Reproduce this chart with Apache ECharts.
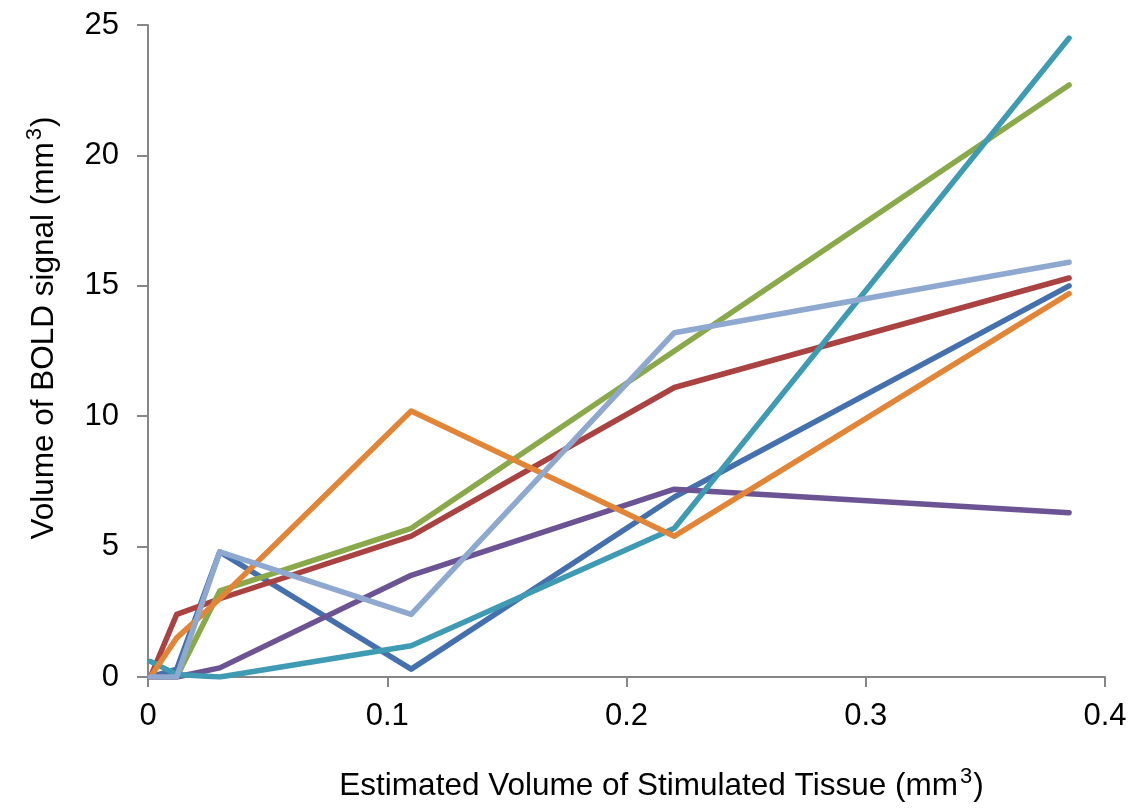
<!DOCTYPE html>
<html>
<head>
<meta charset="utf-8">
<script src="https://cdn.jsdelivr.net/npm/echarts@6/dist/echarts.min.js"></script>
<style>html,body{margin:0;padding:0;background:#fff;}#c{width:1133px;height:809px;}</style>
</head>
<body>
<div id="c"></div>
<script>
const xValues = [0.001, 0.012, 0.03, 0.11, 0.22, 0.385];
const seriesBlue      = [0, 0.3, 4.8, 0.3, 6.9, 15.0];
const seriesRed       = [0, 2.4, 3.0, 5.4, 11.1, 15.3];
const seriesGreen     = [0, 0, 3.3, 5.7, 12.5, 22.7];
const seriesPurple    = [0, 0, 0.35, 3.9, 7.2, 6.3];
const seriesTeal      = [0.6, 0.1, 0, 1.2, 5.7, 24.5];
const seriesOrange    = [0, 1.5, 3.0, 10.2, 5.4, 14.7];
const seriesLightBlue = [0, 0, 4.8, 2.4, 13.2, 15.9];

const seriesList = [
  {data: seriesBlue, color: '#4471AD'},
  {data: seriesRed, color: '#A94240'},
  {data: seriesGreen, color: '#89A94A'},
  {data: seriesPurple, color: '#6C5393'},
  {data: seriesTeal, color: '#3E9BB3'},
  {data: seriesOrange, color: '#E28537'},
  {data: seriesLightBlue, color: '#8EA8CF'}
];

const chart = echarts.init(document.getElementById('c'), null, {renderer: 'canvas'});
const font = 'Liberation Sans, Arial, sans-serif';
function titleRich() {
  return {
    a: {fontSize: 31.5, color: '#000', fontFamily: font, verticalAlign: 'bottom', lineHeight: 36},
    s: {fontSize: 22, color: '#000', fontFamily: font, verticalAlign: 'top', lineHeight: 22, padding: [0, 1, 25, 2]}
  };
}
chart.setOption({
  animation: false,
  backgroundColor: '#fff',
  grid: {left: 148, right: 28, top: 25, bottom: 132, containLabel: false, outerBoundsMode: 'none'},
  xAxis: {
    type: 'value', min: 0, max: 0.4, interval: 0.1,
    axisLine: {show: true, lineStyle: {color: '#868686', width: 2}},
    axisTick: {show: true, length: 10, lineStyle: {color: '#868686', width: 2}},
    axisLabel: {color: '#000', fontSize: 31, fontFamily: font, margin: 24},
    splitLine: {show: false},
    name: '{a|Estimated Volume of Stimulated Tissue (mm}{s|3}{a|)}',
    nameLocation: 'middle', nameGap: 89,
    nameTextStyle: {
      fontFamily: font,
      padding: [0, 0, 0, 70],
      rich: titleRich()
    }
  },
  yAxis: {
    type: 'value', min: 0, max: 25, interval: 5,
    axisLine: {show: true, lineStyle: {color: '#868686', width: 2}},
    axisTick: {show: true, length: 11, inside: false, lineStyle: {color: '#868686', width: 2}},
    axisLabel: {color: '#000', fontSize: 31, fontFamily: font, margin: 29},
    splitLine: {show: false},
    name: '{a|Volume of BOLD signal (mm}{s|3}{a|)}',
    nameLocation: 'middle', nameGap: 88, nameRotate: 90,
    nameTextStyle: {
      fontFamily: font,
      padding: [0, 0, 0, 46],
      rich: titleRich()
    }
  },
  series: seriesList.map(s => ({
    type: 'line',
    data: xValues.map((x, i) => [x, s.data[i]]),
    showSymbol: false,
    symbol: 'none',
    lineStyle: {color: s.color, width: 5.5, cap: 'round', join: 'round'},
    itemStyle: {color: s.color}
  }))
});
</script>
</body>
</html>
